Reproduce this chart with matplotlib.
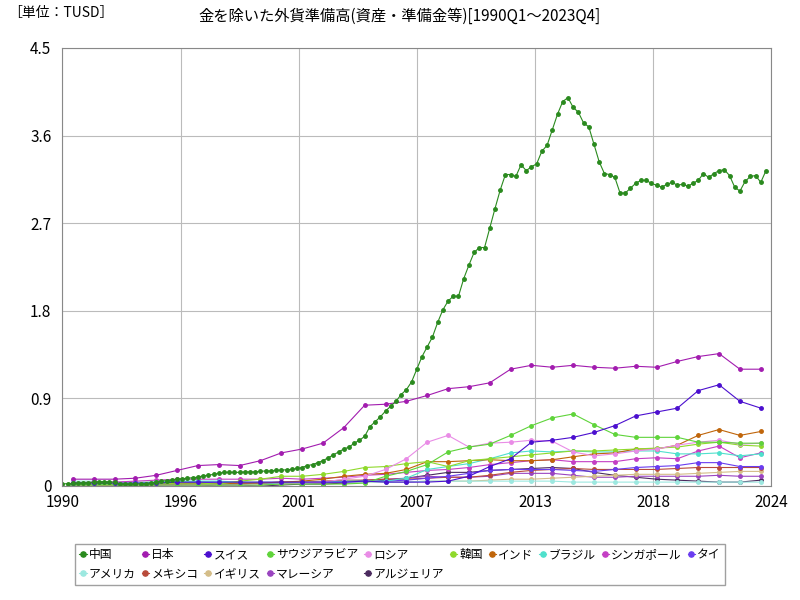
import numpy as np
import matplotlib
matplotlib.use("Agg")
import matplotlib.pyplot as plt
plt.rcParams['font.family'] = 'Noto Sans CJK JP'

quarters = np.arange(136)
china = [.02,.025,.027,.03,.03,.035,.04,.043,.045,.04,.04,.02,.02,.02,.021,.022,
 .025,.03,.04,.05,.055,.06,.07,.075,.08,.085,.09,.105,.11,.12,.13,.14,
 .14,.14,.14,.145,.145,.145,.15,.155,.155,.16,.163,.166,.17,.18,.19,.21,
 .22,.24,.26,.29,.32,.35,.38,.40,.44,.47,.51,.61,.66,.71,.77,.82,
 .87,.94,.99,1.07,1.2,1.33,1.43,1.53,1.68,1.81,1.9,1.95,1.95,2.13,2.27,2.4,
 2.45,2.45,2.65,2.85,3.04,3.2,3.2,3.18,3.3,3.24,3.28,3.31,3.44,3.5,3.66,3.82,
 3.95,3.99,3.89,3.84,3.73,3.69,3.51,3.33,3.21,3.2,3.17,3.01,3.01,3.06,3.11,3.14,
 3.14,3.11,3.09,3.07,3.1,3.12,3.09,3.1,3.08,3.11,3.14,3.21,3.17,3.21,3.24,3.25,
 3.19,3.07,3.03,3.13,3.18,3.19,3.12,3.24]

years = np.arange(1990, 2024)
japan_y = [.07,.07,.07,.08,.11,.16,.21,.22,.21,.26,.34,.38,.44,.6,.83,.84,.87,.93,1.0,1.02,1.06,1.2,1.24,1.22,1.24,1.22,1.21,1.23,1.22,1.28,1.33,1.36,1.2,1.2]
swiss_y = [.03,.03,.03,.03,.03,.04,.04,.04,.04,.04,.04,.04,.04,.04,.05,.04,.04,.04,.05,.1,.2,.28,.45,.47,.5,.55,.62,.72,.76,.8,.98,1.04,.87,.8]
saudi_y = [.01,.01,.01,.01,.01,.01,.01,.01,.01,.01,.02,.02,.02,.02,.03,.1,.15,.22,.35,.4,.43,.52,.62,.7,.74,.63,.53,.5,.5,.5,.45,.45,.44,.44]
russia_y = [.0,.0,.0,.01,.01,.01,.01,.01,.01,.01,.02,.03,.04,.07,.1,.17,.28,.45,.52,.4,.44,.45,.47,.46,.35,.31,.33,.36,.38,.42,.45,.47,.43,.44]
korea_y = [.02,.02,.02,.02,.02,.03,.03,.02,.05,.07,.1,.1,.12,.15,.19,.2,.23,.25,.2,.26,.28,.3,.32,.34,.36,.36,.37,.38,.39,.4,.43,.45,.42,.41]
india_y = [.0,.0,.01,.01,.02,.02,.02,.02,.03,.03,.04,.05,.07,.1,.12,.13,.17,.25,.25,.26,.27,.26,.26,.27,.3,.33,.34,.38,.38,.42,.52,.58,.52,.56]
brazil_y = [.01,.01,.02,.03,.04,.05,.05,.05,.04,.03,.03,.03,.04,.05,.05,.05,.08,.17,.2,.23,.28,.34,.36,.35,.36,.35,.35,.36,.36,.33,.33,.34,.31,.33]
singapore_y = [.03,.04,.04,.05,.06,.07,.07,.07,.07,.07,.08,.07,.08,.09,.11,.12,.14,.16,.17,.19,.22,.24,.26,.27,.25,.25,.25,.28,.29,.28,.36,.41,.29,.34]
thai_y = [.01,.02,.02,.02,.03,.03,.04,.03,.03,.03,.03,.03,.04,.04,.05,.05,.06,.08,.1,.13,.16,.17,.17,.17,.16,.15,.17,.19,.2,.21,.24,.24,.2,.2]
usa_y = [.05,.05,.04,.04,.04,.05,.04,.04,.04,.04,.04,.04,.04,.04,.04,.04,.04,.05,.05,.05,.05,.05,.05,.05,.04,.04,.04,.04,.04,.04,.04,.04,.04,.04]
mexico_y = [.01,.02,.02,.02,.01,.02,.02,.03,.03,.03,.04,.04,.05,.06,.06,.07,.07,.08,.09,.09,.11,.14,.16,.17,.18,.17,.17,.17,.17,.18,.19,.19,.19,.19]
uk_y = [.04,.04,.04,.04,.04,.04,.04,.03,.03,.03,.04,.04,.04,.04,.04,.04,.04,.05,.05,.05,.06,.07,.07,.08,.09,.1,.11,.12,.12,.12,.13,.14,.15,.15]
malay_y = [.01,.01,.02,.02,.02,.02,.03,.02,.02,.03,.03,.03,.03,.04,.06,.07,.08,.1,.09,.09,.1,.13,.13,.13,.11,.09,.09,.1,.1,.1,.1,.11,.1,.1]
alg_y = [.0,.0,.0,.0,.0,.0,.0,.01,.01,.0,.01,.02,.02,.03,.04,.06,.08,.11,.14,.14,.16,.17,.18,.19,.18,.14,.11,.09,.07,.06,.05,.04,.04,.06]

series = [
 ("中国", None, china, "#2a8a1e"),
 ("日本", japan_y, None, "#a21caf"),
 ("スイス", swiss_y, None, "#4b0fcf"),
 ("サウジアラビア", saudi_y, None, "#5fd43a"),
 ("ロシア", russia_y, None, "#e98ce6"),
 ("韓国", korea_y, None, "#8fd92b"),
 ("インド", india_y, None, "#c0650a"),
 ("ブラジル", brazil_y, None, "#4fe0cc"),
 ("シンガポール", singapore_y, None, "#c43fc4"),
 ("タイ", thai_y, None, "#6a3cf0"),
 ("アメリカ", usa_y, None, "#9ce8e0"),
 ("メキシコ", mexico_y, None, "#b84a3a"),
 ("イギリス", uk_y, None, "#d4bd88"),
 ("マレーシア", malay_y, None, "#9a44c0"),
 ("アルジェリア", alg_y, None, "#4a2a5e"),
]

fig = plt.figure(figsize=(8, 6), dpi=100)
ax = fig.add_axes([0.078, 0.19, 0.886, 0.73])
handles = {}
for name, yv, qv, c in reversed(series):
    if qv is not None:
        x = 1990 + quarters / 4.0
        ln, = ax.plot(x, qv, color=c, lw=0.8, marker='o', ms=2.5, label=name)
    else:
        ln, = ax.plot(years + 0.5, yv, color=c, lw=0.8, marker='o', ms=2.5, label=name)
    handles[name] = ln

ax.set_xlim(1990, 2024)
ax.set_ylim(0, 4.5)
xt = np.linspace(1990, 2024, 7)
ax.set_xticks(xt)
ax.set_xticklabels(["1990", "1996", "2001", "2007", "2013", "2018", "2024"], fontsize=11)
ax.set_yticks([0, 0.9, 1.8, 2.7, 3.6, 4.5])
ax.set_yticklabels(["0", "0.9", "1.8", "2.7", "3.6", "4.5"], fontsize=11)
ax.tick_params(axis='y', pad=8)
ax.tick_params(axis='x', pad=6)
ax.grid(True, color="#bbbbbb", lw=0.8)
ax.tick_params(length=0)
for s in ax.spines.values():
    s.set_color("#888888")

fig.text(0.5, 0.965, "金を除いた外貨準備高(資産・準備金等)[1990Q1～2023Q4]", ha='center', fontsize=11)
fig.text(0.01, 0.972, "［単位：TUSD］", ha='left', fontsize=10)

names = [s[0] for s in series]
order = [0, 10, 1, 11, 2, 12, 3, 13, 4, 14, 5, 6, 7, 8, 9]
h = [handles[names[i]] for i in order]
l = [names[i] for i in order]
fig.legend(h, l, loc='lower center', bbox_to_anchor=(0.5, 0.015), ncol=10, fontsize=8.5,
           frameon=True, edgecolor="#888888", fancybox=False, handlelength=0.6,
           handletextpad=0.2, columnspacing=0.5, markerscale=1.5, borderpad=0.4)

fig.savefig("out.png", dpi=100)
